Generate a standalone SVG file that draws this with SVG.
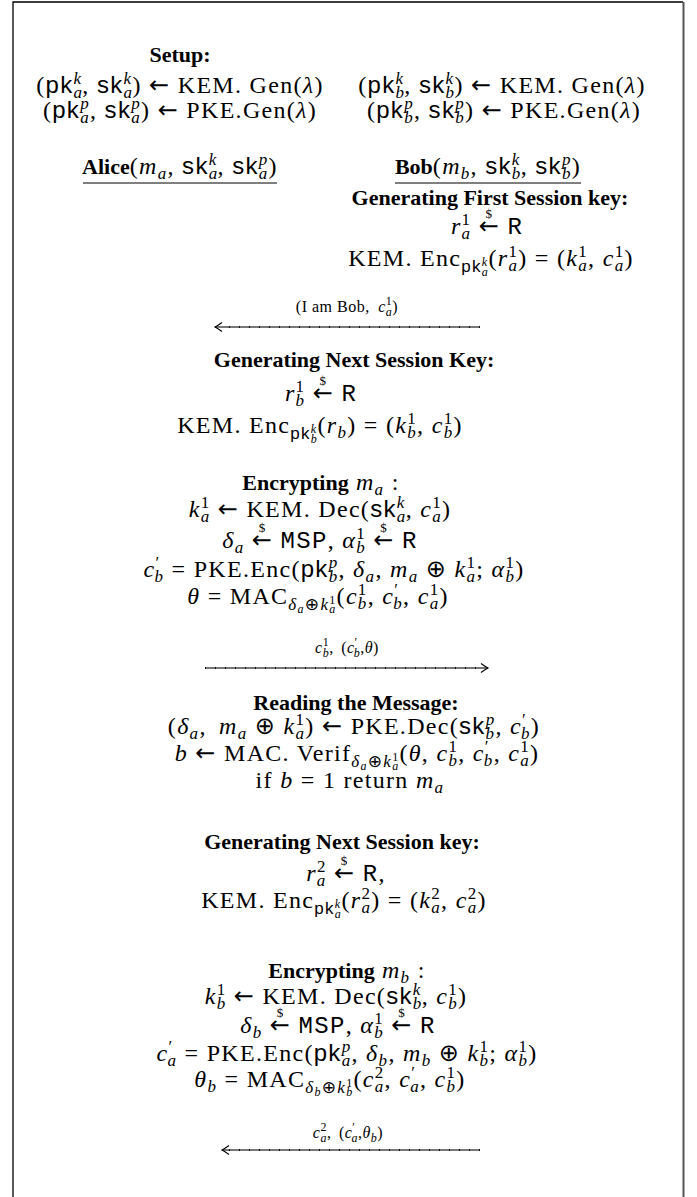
<svg xmlns="http://www.w3.org/2000/svg" width="697" height="1197" viewBox="0 0 697 1197">
<defs>
<style>
.t{font-family:"Liberation Serif",serif;font-size:24px;letter-spacing:1.3px;fill:#000}
.h{font-family:"Liberation Serif",serif;font-size:22px;font-weight:bold;letter-spacing:0;fill:#000}
.i{font-style:italic}
.sf{font-family:"Liberation Sans",sans-serif}
.tt{font-family:"Liberation Mono",monospace}
.ar{font-family:"DejaVu Sans",sans-serif}
.s{font-size:17px}
.ss{font-size:12px}
.d{font-size:13px;fill:#000}
.lb{font-family:"Liberation Serif",serif;font-size:16px;letter-spacing:0.5px;fill:#000}
.ln{stroke:#4a4a4a;stroke-width:1.4;fill:none}
.tk{stroke:#111;stroke-width:2;stroke-dasharray:1 9;fill:none}
.ul{stroke:#000;stroke-width:1.2}
.bd{stroke:#000;stroke-width:1.3;fill:none}
</style>
<marker id="ah" viewBox="-10 -6 12 12" markerWidth="12" markerHeight="12" refX="0" refY="0" orient="auto" markerUnits="userSpaceOnUse"><path d="M -7 -4.5 Q -2.5 -1.2 0 0 Q -2.5 1.2 -7 4.5" fill="none" stroke="#000" stroke-width="1.1"/></marker>
</defs>
<rect width="697" height="1197" fill="#fff"/>
<g id="frame">
<path class="bd" d="M13 1197 V2 H683"/>
<line x1="683.5" y1="2" x2="683.5" y2="1197" stroke="#555" stroke-width="2"/>
</g>
<g id="setup">
<text class="h" x="180" y="62" text-anchor="middle">Setup:</text>
<text class="t" x="180" y="93" text-anchor="middle">(<tspan class="sf">pk</tspan><tspan class="s i" dy="5">a</tspan><tspan class="s i" dx="-9.8" dy="-14">k</tspan><tspan dy="9">, </tspan><tspan class="sf">sk</tspan><tspan class="s i" dy="5">a</tspan><tspan class="s i" dx="-9.8" dy="-14">k</tspan><tspan dy="9">) </tspan><tspan class="ar">←</tspan> KEM. Gen(<tspan class="i">λ</tspan>)</text>
<text class="t" x="180" y="118" text-anchor="middle">(<tspan class="sf">pk</tspan><tspan class="s i" dy="5">a</tspan><tspan class="s i" dx="-9.8" dy="-14">p</tspan><tspan dy="9">, </tspan><tspan class="sf">sk</tspan><tspan class="s i" dy="5">a</tspan><tspan class="s i" dx="-9.8" dy="-14">p</tspan><tspan dy="9">) </tspan><tspan class="ar">←</tspan> PKE.Gen(<tspan class="i">λ</tspan>)</text>
<text class="t" x="502" y="93" text-anchor="middle">(<tspan class="sf">pk</tspan><tspan class="s i" dy="5">b</tspan><tspan class="s i" dx="-9.8" dy="-14">k</tspan><tspan dy="9">, </tspan><tspan class="sf">sk</tspan><tspan class="s i" dy="5">b</tspan><tspan class="s i" dx="-9.8" dy="-14">k</tspan><tspan dy="9">) </tspan><tspan class="ar">←</tspan> KEM. Gen(<tspan class="i">λ</tspan>)</text>
<text class="t" x="504" y="118" text-anchor="middle">(<tspan class="sf">pk</tspan><tspan class="s i" dy="5">b</tspan><tspan class="s i" dx="-9.8" dy="-14">p</tspan><tspan dy="9">, </tspan><tspan class="sf">sk</tspan><tspan class="s i" dy="5">b</tspan><tspan class="s i" dx="-9.8" dy="-14">p</tspan><tspan dy="9">) </tspan><tspan class="ar">←</tspan> PKE.Gen(<tspan class="i">λ</tspan>)</text>
</g>
<g id="alice">
<text class="t" x="180" y="174" text-anchor="middle"><tspan class="h">Alice</tspan>(<tspan class="i">m</tspan><tspan class="s i" dy="5">a</tspan><tspan dy="-5">, </tspan><tspan class="sf">sk</tspan><tspan class="s i" dy="5">a</tspan><tspan class="s i" dx="-9.8" dy="-14">k</tspan><tspan dy="9">, </tspan><tspan class="sf">sk</tspan><tspan class="s i" dy="5">a</tspan><tspan class="s i" dx="-9.8" dy="-14">p</tspan><tspan dy="9">)</tspan></text>
<line class="ul" x1="83" y1="183" x2="277" y2="183"/>
</g>
<g id="bob">
<text class="t" x="488" y="174" text-anchor="middle"><tspan class="h">Bob</tspan>(<tspan class="i">m</tspan><tspan class="s i" dy="5">b</tspan><tspan dy="-5">, </tspan><tspan class="sf">sk</tspan><tspan class="s i" dy="5">b</tspan><tspan class="s i" dx="-9.8" dy="-14">k</tspan><tspan dy="9">, </tspan><tspan class="sf">sk</tspan><tspan class="s i" dy="5">b</tspan><tspan class="s i" dx="-9.8" dy="-14">p</tspan><tspan dy="9">)</tspan></text>
<line class="ul" x1="395" y1="183" x2="581" y2="183"/>
</g>
<g id="bob-first-key">
<text class="h" x="490" y="205" text-anchor="middle">Generating First Session key:</text>
<text class="t" x="487" y="234" text-anchor="middle"><tspan class="i">r</tspan><tspan class="s i" dy="5">a</tspan><tspan class="s" dx="-9.8" dy="-14">1</tspan><tspan dy="9"> </tspan><tspan class="ar">←</tspan><tspan class="d" dx="-14.6" dy="-16">$</tspan><tspan dx="6.8" dy="16"> </tspan><tspan class="tt">R</tspan></text>
<text class="t" x="491" y="266" text-anchor="middle">KEM. Enc<tspan class="s sf" dy="6">pk</tspan><tspan class="ss i" dy="4">a</tspan><tspan class="ss i" dx="-7.3" dy="-10">k</tspan><tspan dy="0">(</tspan><tspan class="i">r</tspan><tspan class="s i" dy="5">a</tspan><tspan class="s" dx="-9.8" dy="-14">1</tspan><tspan dy="9">) = (</tspan><tspan class="i">k</tspan><tspan class="s i" dy="5">a</tspan><tspan class="s" dx="-9.8" dy="-14">1</tspan><tspan dy="9">, </tspan><tspan class="i">c</tspan><tspan class="s i" dy="5">a</tspan><tspan class="s" dx="-9.8" dy="-14">1</tspan><tspan dy="9">)</tspan></text>
</g>
<g id="alice-next-key">
<text class="h" x="354" y="367" text-anchor="middle">Generating Next Session Key:</text>
<text class="t" x="321" y="401" text-anchor="middle"><tspan class="i">r</tspan><tspan class="s i" dy="5">b</tspan><tspan class="s" dx="-9.8" dy="-14">1</tspan><tspan dy="9"> </tspan><tspan class="ar">←</tspan><tspan class="d" dx="-14.6" dy="-16">$</tspan><tspan dx="6.8" dy="16"> </tspan><tspan class="tt">R</tspan></text>
<text class="t" x="320" y="433" text-anchor="middle">KEM. Enc<tspan class="s sf" dy="6">pk</tspan><tspan class="ss i" dy="4">b</tspan><tspan class="ss i" dx="-7.3" dy="-10">k</tspan><tspan dy="0">(</tspan><tspan class="i">r</tspan><tspan class="s i" dy="5">b</tspan><tspan dy="-5">) = (</tspan><tspan class="i">k</tspan><tspan class="s i" dy="5">b</tspan><tspan class="s" dx="-9.8" dy="-14">1</tspan><tspan dy="9">, </tspan><tspan class="i">c</tspan><tspan class="s i" dy="5">b</tspan><tspan class="s" dx="-9.8" dy="-14">1</tspan><tspan dy="9">)</tspan></text>
</g>
<g id="alice-encrypt">
<text class="t" x="321" y="490" text-anchor="middle"><tspan class="h">Encrypting</tspan> <tspan class="i">m</tspan><tspan class="s i" dy="5">a</tspan><tspan dy="-5"> :</tspan></text>
<text class="t" x="320" y="517" text-anchor="middle"><tspan class="i">k</tspan><tspan class="s i" dy="5">a</tspan><tspan class="s" dx="-9.8" dy="-14">1</tspan><tspan dy="9"> </tspan><tspan class="ar">←</tspan> KEM. Dec(<tspan class="sf">sk</tspan><tspan class="s i" dy="5">a</tspan><tspan class="s i" dx="-9.8" dy="-14">k</tspan><tspan dy="9">, </tspan><tspan class="i">c</tspan><tspan class="s i" dy="5">a</tspan><tspan class="s" dx="-9.8" dy="-14">1</tspan><tspan dy="9">)</tspan></text>
<text class="t" x="320" y="548" text-anchor="middle"><tspan class="i">δ</tspan><tspan class="s i" dy="5">a</tspan><tspan dy="-5"> </tspan><tspan class="ar">←</tspan><tspan class="d" dx="-14.6" dy="-16">$</tspan><tspan dx="6.8" dy="16"> </tspan><tspan class="tt">MSP</tspan>,  <tspan class="i">α</tspan><tspan class="s i" dy="5">b</tspan><tspan class="s" dx="-9.8" dy="-14">1</tspan><tspan dy="9"> </tspan><tspan class="ar">←</tspan><tspan class="d" dx="-14.6" dy="-16">$</tspan><tspan dx="6.8" dy="16"> </tspan><tspan class="tt">R</tspan></text>
<text class="t" x="334" y="577" text-anchor="middle"><tspan class="i">c</tspan><tspan class="s" dy="-9">′</tspan><tspan class="s i" dx="-6" dy="14">b</tspan><tspan dy="-5"> = PKE.Enc(</tspan><tspan class="sf">pk</tspan><tspan class="s i" dy="5">b</tspan><tspan class="s i" dx="-9.8" dy="-14">p</tspan><tspan dy="9">, </tspan><tspan class="i">δ</tspan><tspan class="s i" dy="5">a</tspan><tspan dy="-5">, </tspan><tspan class="i">m</tspan><tspan class="s i" dy="5">a</tspan><tspan dy="-5"> </tspan><tspan class="ar">⊕</tspan> <tspan class="i">k</tspan><tspan class="s i" dy="5">a</tspan><tspan class="s" dx="-9.8" dy="-14">1</tspan><tspan dy="9">; </tspan><tspan class="i">α</tspan><tspan class="s i" dy="5">b</tspan><tspan class="s" dx="-9.8" dy="-14">1</tspan><tspan dy="9">)</tspan></text>
<text class="t" x="318" y="604" text-anchor="middle"><tspan class="i">θ</tspan> = MAC<tspan class="s i" dy="6">δ</tspan><tspan class="ss i" dy="3">a</tspan><tspan class="s ar" dy="-3">⊕</tspan><tspan class="s i">k</tspan><tspan class="ss i" dy="3">a</tspan><tspan class="ss" dx="-7.3" dy="-9">1</tspan><tspan dy="0">(</tspan><tspan class="i">c</tspan><tspan class="s i" dy="5">b</tspan><tspan class="s" dx="-9.8" dy="-14">1</tspan><tspan dy="9">, </tspan><tspan class="i">c</tspan><tspan class="s" dy="-9">′</tspan><tspan class="s i" dx="-6" dy="14">b</tspan><tspan dy="-5">, </tspan><tspan class="i">c</tspan><tspan class="s i" dy="5">a</tspan><tspan class="s" dx="-9.8" dy="-14">1</tspan><tspan dy="9">)</tspan></text>
</g>
<g id="bob-read">
<text class="h" x="356" y="710" text-anchor="middle">Reading the Message:</text>
<text class="t" x="354" y="734" text-anchor="middle">(<tspan class="i">δ</tspan><tspan class="s i" dy="5">a</tspan><tspan dy="-5">,  </tspan><tspan class="i" dx="5">m</tspan><tspan class="s i" dy="5">a</tspan><tspan dy="-5"> </tspan><tspan class="ar">⊕</tspan> <tspan class="i">k</tspan><tspan class="s i" dy="5">a</tspan><tspan class="s" dx="-9.8" dy="-14">1</tspan><tspan dy="9">) </tspan><tspan class="ar">←</tspan> PKE.Dec(<tspan class="sf">sk</tspan><tspan class="s i" dy="5">b</tspan><tspan class="s i" dx="-9.8" dy="-14">p</tspan><tspan dy="9">, </tspan><tspan class="i">c</tspan><tspan class="s" dy="-9">′</tspan><tspan class="s i" dx="-6" dy="14">b</tspan><tspan dy="-5">)</tspan></text>
<text class="t" x="357" y="761" text-anchor="middle"><tspan class="i">b</tspan> <tspan class="ar">←</tspan> MAC. Verif<tspan class="s i" dy="6">δ</tspan><tspan class="ss i" dy="3">a</tspan><tspan class="s ar" dy="-3">⊕</tspan><tspan class="s i">k</tspan><tspan class="ss i" dy="3">a</tspan><tspan class="ss" dx="-7.3" dy="-9">1</tspan><tspan dy="0">(</tspan><tspan class="i">θ</tspan>, <tspan class="i">c</tspan><tspan class="s i" dy="5">b</tspan><tspan class="s" dx="-9.8" dy="-14">1</tspan><tspan dy="9">, </tspan><tspan class="i">c</tspan><tspan class="s" dy="-9">′</tspan><tspan class="s i" dx="-6" dy="14">b</tspan><tspan dy="-5">, </tspan><tspan class="i">c</tspan><tspan class="s i" dy="5">a</tspan><tspan class="s" dx="-9.8" dy="-14">1</tspan><tspan dy="9">)</tspan></text>
<text class="t" x="350" y="788" text-anchor="middle">if <tspan class="i">b</tspan> = 1 return <tspan class="i">m</tspan><tspan class="s i" dy="5">a</tspan></text>
</g>
<g id="bob-next-key">
<text class="h" x="342" y="849" text-anchor="middle">Generating Next Session key:</text>
<text class="t" x="346" y="881" text-anchor="middle"><tspan class="i">r</tspan><tspan class="s i" dy="5">a</tspan><tspan class="s" dx="-9.8" dy="-14">2</tspan><tspan dy="9"> </tspan><tspan class="ar">←</tspan><tspan class="d" dx="-14.6" dy="-16">$</tspan><tspan dx="6.8" dy="16"> </tspan><tspan class="tt">R</tspan>,</text>
<text class="t" x="344" y="908" text-anchor="middle">KEM. Enc<tspan class="s sf" dy="6">pk</tspan><tspan class="ss i" dy="4">a</tspan><tspan class="ss i" dx="-7.3" dy="-10">k</tspan><tspan dy="0">(</tspan><tspan class="i">r</tspan><tspan class="s i" dy="5">a</tspan><tspan class="s" dx="-9.8" dy="-14">2</tspan><tspan dy="9">) = (</tspan><tspan class="i">k</tspan><tspan class="s i" dy="5">a</tspan><tspan class="s" dx="-9.8" dy="-14">2</tspan><tspan dy="9">, </tspan><tspan class="i">c</tspan><tspan class="s i" dy="5">a</tspan><tspan class="s" dx="-9.8" dy="-14">2</tspan><tspan dy="9">)</tspan></text>
</g>
<g id="bob-encrypt">
<text class="t" x="347" y="978" text-anchor="middle"><tspan class="h">Encrypting</tspan> <tspan class="i">m</tspan><tspan class="s i" dy="5">b</tspan><tspan dy="-5"> :</tspan></text>
<text class="t" x="336" y="1004" text-anchor="middle"><tspan class="i">k</tspan><tspan class="s i" dy="5">b</tspan><tspan class="s" dx="-9.8" dy="-14">1</tspan><tspan dy="9"> </tspan><tspan class="ar">←</tspan> KEM. Dec(<tspan class="sf">sk</tspan><tspan class="s i" dy="5">b</tspan><tspan class="s i" dx="-9.8" dy="-14">k</tspan><tspan dy="9">, </tspan><tspan class="i">c</tspan><tspan class="s i" dy="5">b</tspan><tspan class="s" dx="-9.8" dy="-14">1</tspan><tspan dy="9">)</tspan></text>
<text class="t" x="338" y="1033" text-anchor="middle"><tspan class="i">δ</tspan><tspan class="s i" dy="5">b</tspan><tspan dy="-5"> </tspan><tspan class="ar">←</tspan><tspan class="d" dx="-14.6" dy="-16">$</tspan><tspan dx="6.8" dy="16"> </tspan><tspan class="tt">MSP</tspan>,  <tspan class="i">α</tspan><tspan class="s i" dy="5">b</tspan><tspan class="s" dx="-9.8" dy="-14">1</tspan><tspan dy="9"> </tspan><tspan class="ar">←</tspan><tspan class="d" dx="-14.6" dy="-16">$</tspan><tspan dx="6.8" dy="16"> </tspan><tspan class="tt">R</tspan></text>
<text class="t" x="347" y="1061" text-anchor="middle"><tspan class="i">c</tspan><tspan class="s" dy="-9">′</tspan><tspan class="s i" dx="-6" dy="14">a</tspan><tspan dy="-5"> = PKE.Enc(</tspan><tspan class="sf">pk</tspan><tspan class="s i" dy="5">a</tspan><tspan class="s i" dx="-9.8" dy="-14">p</tspan><tspan dy="9">, </tspan><tspan class="i">δ</tspan><tspan class="s i" dy="5">b</tspan><tspan dy="-5">, </tspan><tspan class="i">m</tspan><tspan class="s i" dy="5">b</tspan><tspan dy="-5"> </tspan><tspan class="ar">⊕</tspan> <tspan class="i">k</tspan><tspan class="s i" dy="5">b</tspan><tspan class="s" dx="-9.8" dy="-14">1</tspan><tspan dy="9">; </tspan><tspan class="i">α</tspan><tspan class="s i" dy="5">b</tspan><tspan class="s" dx="-9.8" dy="-14">1</tspan><tspan dy="9">)</tspan></text>
<text class="t" x="330" y="1087" text-anchor="middle"><tspan class="i">θ</tspan><tspan class="s i" dy="5">b</tspan><tspan dy="-5"> = MAC</tspan><tspan class="s i" dy="6">δ</tspan><tspan class="ss i" dy="3">b</tspan><tspan class="s ar" dy="-3">⊕</tspan><tspan class="s i">k</tspan><tspan class="ss i" dy="3">b</tspan><tspan class="ss" dx="-7.3" dy="-9">1</tspan><tspan dy="0">(</tspan><tspan class="i">c</tspan><tspan class="s i" dy="5">a</tspan><tspan class="s" dx="-9.8" dy="-14">2</tspan><tspan dy="9">, </tspan><tspan class="i">c</tspan><tspan class="s" dy="-9">′</tspan><tspan class="s i" dx="-6" dy="14">a</tspan><tspan dy="-5">, </tspan><tspan class="i">c</tspan><tspan class="s i" dy="5">b</tspan><tspan class="s" dx="-9.8" dy="-14">1</tspan><tspan dy="9">)</tspan></text>
</g>
<g id="connectors">
<g id="msg1">
<line class="ln" x1="480" y1="327" x2="215" y2="327" marker-end="url(#ah)"/>
<line class="tk" x1="480" y1="327" x2="222" y2="327"/>
<text class="lb" x="347" y="312" text-anchor="middle">(I am Bob, <tspan class="i" dx="4">c</tspan><tspan class="ss i" dy="4">a</tspan><tspan class="ss" dx="-6.5" dy="-11">1</tspan><tspan dy="7">)</tspan></text>
</g>
<g id="msg2">
<line class="ln" x1="205" y1="668" x2="488" y2="668" marker-end="url(#ah)"/>
<line class="tk" x1="205" y1="668" x2="481" y2="668"/>
<text class="lb" x="347" y="653" text-anchor="middle"><tspan class="i">c</tspan><tspan class="ss i" dy="4">b</tspan><tspan class="ss" dx="-6.5" dy="-11">1</tspan><tspan dy="7">, </tspan><tspan dx="3">(</tspan><tspan class="i">c</tspan><tspan class="ss" dy="-7">′</tspan><tspan class="ss i" dx="-4" dy="11">b</tspan><tspan dy="-4">,</tspan><tspan class="i">θ</tspan>)</text>
</g>
<g id="msg3">
<line class="ln" x1="480" y1="1150" x2="222" y2="1150" marker-end="url(#ah)"/>
<line class="tk" x1="480" y1="1150" x2="229" y2="1150"/>
<text class="lb" x="348" y="1138" text-anchor="middle"><tspan class="i">c</tspan><tspan class="ss i" dy="4">a</tspan><tspan class="ss" dx="-6.5" dy="-11">2</tspan><tspan dy="7">, </tspan><tspan dx="3">(</tspan><tspan class="i">c</tspan><tspan class="ss" dy="-7">′</tspan><tspan class="ss i" dx="-4" dy="11">a</tspan><tspan dy="-4">,</tspan><tspan class="i">θ</tspan><tspan class="ss i" dy="4">b</tspan><tspan dy="-4">)</tspan></text>
</g>
</g>
</svg>
